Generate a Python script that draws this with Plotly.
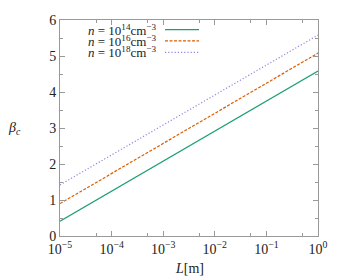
import plotly.graph_objects as go

L_vals = [1e-5, 1e-4, 1e-3, 1e-2, 1e-1, 1e0]
beta_n14 = [0.41, 1.24, 2.08, 2.91, 3.74, 4.58]
beta_n16 = [0.90, 1.74, 2.58, 3.41, 4.25, 5.08]
beta_n18 = [1.42, 2.25, 3.08, 3.91, 4.75, 5.58]
labels = ["<i>n</i> = 10<sup>14</sup>cm<sup>−3</sup>",
          "<i>n</i> = 10<sup>16</sup>cm<sup>−3</sup>",
          "<i>n</i> = 10<sup>18</sup>cm<sup>−3</sup>"]
colors = ["#1b9e77", "#d95f02", "#9185e0"]
dashes = ["solid", "3px,1.5px", "1.2px,2px"]
series = [beta_n14, beta_n16, beta_n18]
xtick_vals = [1e-5, 1e-4, 1e-3, 1e-2, 1e-1, 1e0]
xtick_text = ["10<sup>−5</sup>", "10<sup>−4</sup>", "10<sup>−3</sup>",
              "10<sup>−2</sup>", "10<sup>−1</sup>", "10<sup>0</sup>"]
xminor_vals = [5e-5, 5e-4, 5e-3, 5e-2, 5e-1]

serif = "Liberation Serif, Times New Roman, serif"
fig = go.Figure()
for ys, c, d, lab in zip(series, colors, dashes, labels):
    fig.add_trace(go.Scatter(x=L_vals, y=ys, mode="lines", name=lab,
                             line=dict(color=c, dash=d, width=1.2),
                             showlegend=False))

# custom legend (text left of line sample)
rows_y = [0.955, 0.903, 0.850]
for lab, c, d, yy in zip(labels, colors, dashes, rows_y):
    fig.add_annotation(xref="paper", yref="paper", x=0.378, y=yy, text=lab,
                       showarrow=False, xanchor="right", yanchor="middle",
                       font=dict(family=serif, size=13, color="#222"))
    fig.add_shape(type="line", xref="paper", yref="paper", x0=0.407, x1=0.539,
                  y0=yy, y1=yy, line=dict(color=c, dash=d, width=1.2))

axis_common = dict(showgrid=False, zeroline=False, showline=True, mirror="ticks",
                   linecolor="#999", linewidth=1, ticks="inside", ticklen=5,
                   tickcolor="#999", ticklabeloverflow="allow",
                   tickfont=dict(family=serif, size=14, color="#222"))
fig.update_xaxes(type="log", range=[-5, 0], tickvals=xtick_vals, ticktext=xtick_text,
                 minor=dict(tickvals=xminor_vals, ticks="inside", ticklen=3, tickcolor="#999"),
                 **axis_common)
fig.update_yaxes(range=[0, 6], dtick=1,
                 minor=dict(dtick=0.5, ticks="inside", ticklen=3, tickcolor="#999"),
                 **axis_common)

fig.add_annotation(xref="paper", yref="paper", x=0.5, y=-0.105, text="<i>L</i>[m]",
                   showarrow=False, xanchor="center", yanchor="top",
                   font=dict(family=serif, size=14, color="#222"))
fig.add_annotation(xref="paper", yref="paper", x=-0.175, y=0.5, text="<i>β<sub>c</sub></i>",
                   showarrow=False, xanchor="center", yanchor="middle",
                   font=dict(family=serif, size=14, color="#222"))

# page body has an 8px margin, so the figure is shrunk by 8px on each axis
fig.update_layout(width=333, height=268, margin=dict(l=52, r=23, t=5, b=40),
                  paper_bgcolor="white", plot_bgcolor="white")
fig.write_html("out.html")
